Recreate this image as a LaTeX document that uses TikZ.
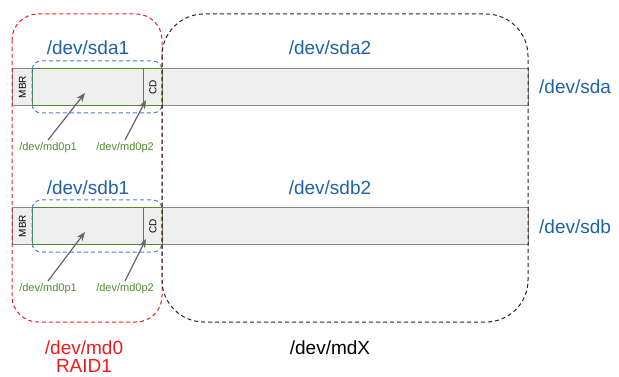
\documentclass[tikz,border=0pt]{standalone}
\usepackage{fontspec}
\setmainfont{Liberation Sans}
\usetikzlibrary{arrows.meta}
\definecolor{devblue}{HTML}{2060A8}
\definecolor{devgreen}{HTML}{4E8A2E}
\definecolor{devred}{HTML}{EE1C1C}
\definecolor{barfill}{HTML}{EEEEEE}
\definecolor{bargray}{HTML}{888888}
\tikzset{
  bar/.style={draw=bargray, fill=barfill, line width=1pt, inner sep=0pt, minimum height=37pt},
  mbrbox/.style={draw=bargray, line width=1pt, inner sep=0pt, minimum width=20pt, minimum height=37pt},
  partbox/.style={draw=devgreen, line width=1pt, inner sep=0pt, minimum height=37pt},
  bigtext/.style={font=\fontsize{19}{22}\selectfont, text=devblue, inner sep=0pt},
  smalltext/.style={font=\fontsize{11}{13}\selectfont, text=devgreen, inner sep=0pt},
  rottext/.style={font=\fontsize{10}{12}\selectfont, rotate=90, inner sep=0pt},
  bluedash/.style={draw=devblue!80, dash pattern=on 4pt off 3pt, line width=1pt, rounded corners=9pt},
  reddash/.style={draw=devred, dash pattern=on 4pt off 3pt, line width=1pt, rounded corners=26pt},
  blackdash/.style={draw=black!85, dash pattern=on 4pt off 3pt, line width=1pt, rounded corners=42pt},
  ptr/.style={draw=black!60, line width=1.2pt, -{Stealth[length=9pt,width=7pt]}}
}
\begin{document}
\begin{tikzpicture}[x=1pt,y=-1pt]
\useasboundingbox (0,0) rectangle (619,377);
% disks
\foreach \d/\y in {a/68,b/207}{
  \node[bar, anchor=north west, minimum width=516pt] (sd\d) at (12,\y) {};
  \node[mbrbox, anchor=north west] (mbr\d) at (12,\y) {};
  \node[rottext] at (mbr\d.center) {MBR};
  \node[partbox, anchor=north west, minimum width=111pt] (p1\d) at (32,\y) {};
  \node[partbox, anchor=north west, minimum width=19pt] (cd\d) at (143,\y) {};
  \node[rottext] at (cd\d.center) {CD};
}
% blue dashed partition outlines
\draw[bluedash] (32,61) rectangle (162,113);
\draw[bluedash] (32,200) rectangle (162,252);
% red and black outlines
\draw[reddash] (12,14) rectangle (162,322);
\draw[blackdash] (162,14) rectangle (528,322);
% labels
\node[bigtext] (la1) at (88,48) {/dev/sda1};
\node[bigtext] (la2) at (330,48) {/dev/sda2};
\node[bigtext, anchor=west] (la) at (539,87) {/dev/sda};
\node[bigtext] (lb1) at (88,188) {/dev/sdb1};
\node[bigtext] (lb2) at (330,188) {/dev/sdb2};
\node[bigtext, anchor=west] (lb) at (539,227) {/dev/sdb};
\node[font=\fontsize{19}{22}\selectfont, text=devred, inner sep=0pt] (md0) at (84,348) {/dev/md0};
\node[font=\fontsize{19}{22}\selectfont, text=devred, inner sep=0pt] (raid) at (84,366) {RAID1};
\node[font=\fontsize{19}{22}\selectfont, inner sep=0pt] (mdx) at (330,348) {/dev/mdX};
% md0 partition labels and arrows
\foreach \d/\y/\ly in {a/68/148,b/207/289}{
  \node[smalltext] (m1\d) at (48,\ly) {/dev/md0p1};
  \node[smalltext] (m2\d) at (125,\ly) {/dev/md0p2};
  \coordinate (t1\d) at (85,\y+25);
  \coordinate (t2\d) at (146,\y+32);
  \draw[ptr] ([yshift=8pt]m1\d.center) -- (t1\d);
  \draw[ptr] ([yshift=8pt]m2\d.center) -- (t2\d);
}
\end{tikzpicture}
\end{document}
